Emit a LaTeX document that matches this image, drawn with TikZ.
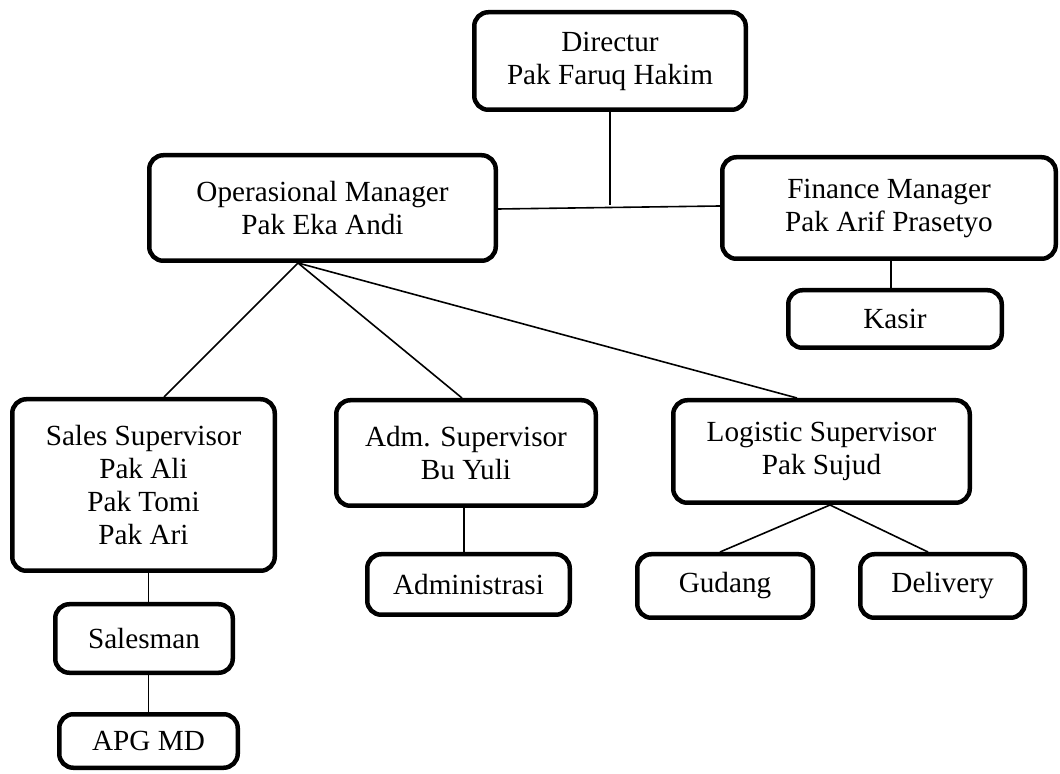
\documentclass[tikz,border=0pt]{standalone}
\usepackage{fontspec}
\setmainfont{Liberation Serif}
\tikzset{
  orgbox/.style={draw, line width=2.25pt, rounded corners=7pt, align=center,
    inner sep=0pt, font=\fontsize{14.6}{16.5}\selectfont},
  link/.style={line width=0.8pt}
}
\begin{document}
\begin{tikzpicture}[x=0.5pt,y=-0.5pt]
\useasboundingbox (0,0) rectangle (1060,774);

\node[orgbox, minimum width=135.75pt, minimum height=48.75pt] (dir) at (610,61) {Directur\\Pak Faruq Hakim};
\node[orgbox, minimum width=173.25pt, minimum height=52.75pt] (om) at (322.5,208) {Operasional Manager\\Pak Eka Andi};
\node[orgbox, minimum width=166.75pt, minimum height=50.75pt] (fm) at (889,208) {Finance Manager\\Pak Arif Prasetyo};
\node[orgbox, minimum width=106.75pt, minimum height=28.75pt] (kasir) at (895,319) {Kasir};

\node[orgbox, minimum width=131.25pt, minimum height=85.75pt] (sales) at (143.5,485) {Sales Supervisor\\Pak Ali\\Pak Tomi\\Pak Ari};
\node[orgbox, minimum width=129.75pt, minimum height=52.75pt] (adm) at (466,453) {Adm. Supervisor\\Bu Yuli};
\node[orgbox, minimum width=148.25pt, minimum height=51.25pt] (log) at (821.5,451.5) {Logistic Supervisor\\Pak Sujud};

\node[orgbox, minimum width=101.25pt, minimum height=30.25pt] (admin) at (468.5,584.5) {Administrasi};
\node[orgbox, minimum width=87.75pt, minimum height=31.75pt] (gudang) at (725,586) {Gudang};
\node[orgbox, minimum width=82.25pt, minimum height=31.75pt] (delivery) at (942.5,586) {Delivery};
\node[orgbox, minimum width=88.75pt, minimum height=34.25pt] (salesman) at (144,638.5) {Salesman};
\node[orgbox, minimum width=89.25pt, minimum height=26.75pt] (apg) at (148.5,741) {APG MD};

\coordinate (join) at (610,205.5);
\draw[link] ([yshift=-0.5pt]om.east) -- ([yshift=1pt]fm.west);
\draw[link] (dir.south) -- (join);

\draw[link] ([xshift=-12.25pt]om.south) -- ([xshift=10.25pt]sales.north);
\draw[link] ([xshift=-12.25pt]om.south) -- ([xshift=-2pt]adm.north);
\draw[link] ([xshift=-12.25pt]om.south) -- ([xshift=-12.25pt]log.north);

\draw[link] ([xshift=1pt]fm.south) -- ([xshift=1pt]fm.south |- kasir.north);

\draw[link] (sales.south -| apg.north) -- (salesman.north -| apg.north);
\draw[link] (salesman.south -| apg.north) -- (apg.north);

\draw[link] ([xshift=-1pt]adm.south) -- ([xshift=-1pt]adm.south |- admin.north);

\draw[link] ([xshift=4.25pt]log.south) -- ([xshift=-2.5pt]gudang.north);
\draw[link] ([xshift=4.25pt]log.south) -- ([xshift=-7.25pt]delivery.north);
\end{tikzpicture}
\end{document}
